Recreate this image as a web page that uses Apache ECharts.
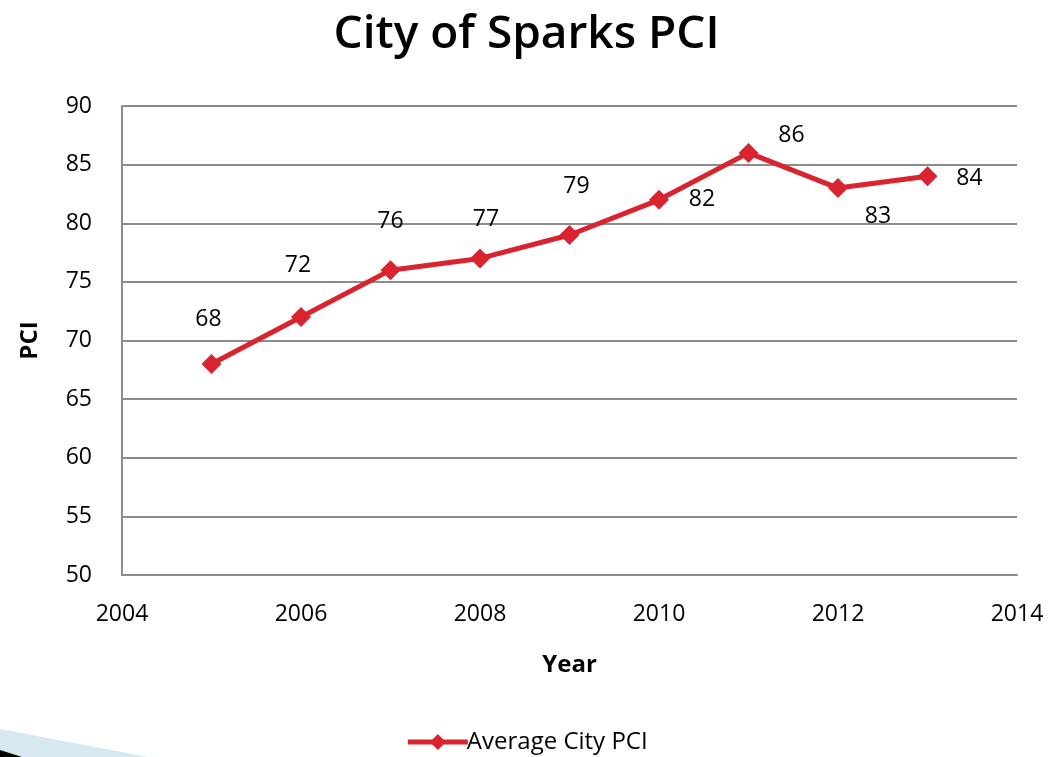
<!DOCTYPE html>
<html>
<head>
<meta charset="utf-8">
<script src="https://cdn.jsdelivr.net/npm/echarts@6/dist/echarts.min.js"></script>
<style>
  html, body { margin: 0; padding: 0; background: #fff; }
  #main { width: 1053px; height: 757px; }
</style>
</head>
<body>
<div id="main"></div>
<script>
// data
var years = [2005, 2006, 2007, 2008, 2009, 2010, 2011, 2012, 2013]
var pci = [68, 72, 76, 77, 79, 82, 86, 83, 84]
var seriesName = 'Average City PCI'

// where each value label sits relative to its marker (px)
var labelOffsets = [[-3, -44], [-3, -52], [0, -49], [6, -39], [7, -49], [43, 0], [43, -17], [40, 28], [42, 2]]

var FONT = '"Open Sans", "DejaVu Sans", sans-serif'
var RED = '#d9232e'

var points = years.map(function (y, i) {
    return {
        value: [y, pci[i]],
        label: { offset: labelOffsets[i] }
    }
})

var myChart = echarts.init(document.getElementById('main'))

var option = {
    animation: false,
    title: {
        text: 'City of Sparks PCI',
        left: 'center',
        top: 7,
        textStyle: { fontFamily: FONT, fontSize: 46, fontWeight: 600, color: '#000' }
    },
    legend: {
        bottom: -2,
        left: 'center',
        itemWidth: 60,
        itemHeight: 20,
        itemGap: 4,
        lineStyle: { width: 5 },
        textStyle: { fontFamily: FONT, fontSize: 24, color: '#000', padding: [0, 0, 0, -6] },
        data: [seriesName]
    },
    grid: { left: 122, right: 36, top: 106, bottom: 182, containLabel: false },
    xAxis: {
        type: 'value',
        min: 2004,
        max: 2014,
        interval: 2,
        name: 'Year',
        nameLocation: 'middle',
        nameGap: 78,
        nameTextStyle: { fontFamily: FONT, fontSize: 24, fontWeight: 'bold', color: '#000' },
        axisLine: { show: true, lineStyle: { color: '#8c8c8c', width: 2 } },
        axisTick: { show: false },
        splitLine: { show: false },
        axisLabel: {
            fontFamily: FONT, fontSize: 23, color: '#000', margin: 28,
            formatter: function (v) { return String(v) }
        }
    },
    yAxis: {
        type: 'value',
        min: 50,
        max: 90,
        interval: 5,
        name: 'PCI',
        nameLocation: 'middle',
        nameGap: 80,
        nameTextStyle: { fontFamily: FONT, fontSize: 24, fontWeight: 'bold', color: '#000' },
        axisLine: { show: true, lineStyle: { color: '#8c8c8c', width: 2 } },
        axisTick: { show: false },
        splitLine: { show: true, lineStyle: { color: '#8c8c8c', width: 2 } },
        axisLabel: { fontFamily: FONT, fontSize: 23, color: '#000', margin: 30 }
    },
    series: [{
        name: seriesName,
        type: 'line',
        data: points,
        symbol: 'diamond',
        symbolSize: 20,
        lineStyle: { color: RED, width: 5 },
        itemStyle: { color: RED },
        label: {
            show: true,
            position: 'inside',
            fontFamily: FONT,
            fontSize: 23,
            color: '#000',
            formatter: function (p) { return p.value[1] }
        }
    }],
    graphic: [
        {
            type: 'polygon',
            silent: true,
            shape: { points: [[0, 729], [148, 757], [0, 757]] },
            style: { fill: '#d6e8f0' }
        },
        {
            type: 'polygon',
            silent: true,
            shape: { points: [[0, 750], [22, 757], [0, 757]] },
            style: { fill: '#000' }
        }
    ]
}

myChart.setOption(option)
</script>
</body>
</html>
